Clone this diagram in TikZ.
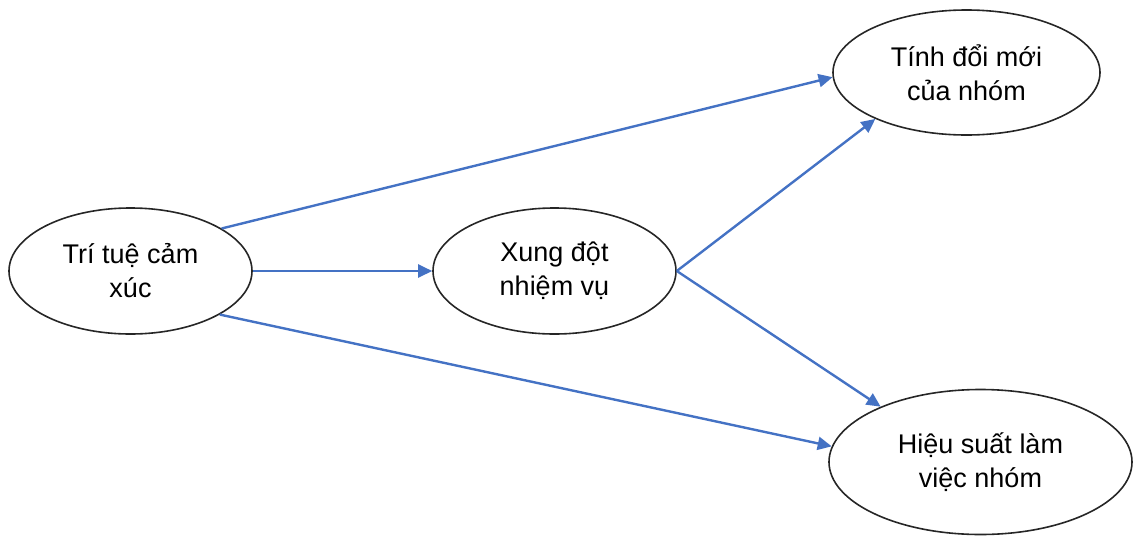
\documentclass[tikz,border=0pt]{standalone}
\usepackage{fontspec}
\setmainfont{Liberation Sans}
\usetikzlibrary{shapes.geometric,arrows.meta}
\definecolor{linkblue}{RGB}{68,114,196}
\begin{document}
\begin{tikzpicture}[x=1pt,y=-1pt,
  oval/.style={ellipse,draw=black!85,line width=1.6pt,inner sep=0pt,
    align=center,font=\fontsize{27}{34}\selectfont},
  link/.style={draw=linkblue,line width=2.4pt,-{Triangle[length=14pt,width=13pt]}}]
\useasboundingbox (0,0) rectangle (1133,536);

% constructs
\node[oval,minimum width=243pt,minimum height=126pt] (ei) at (130.5,271) {Trí tuệ cảm\\xúc};
\node[oval,minimum width=243pt,minimum height=126pt] (tc) at (554.5,271) {Xung đột\\nhiệm vụ};
\node[oval,minimum width=267pt,minimum height=125pt] (inn) at (966.5,72.5) {Tính đổi mới\\của nhóm};
\node[oval,minimum width=303pt,minimum height=145pt] (perf) at (980.5,462) {Hiệu suất làm\\việc nhóm};

% paths
\draw[link] (ei.25) -- (inn.182);
\draw[link] (ei.east) -- (tc.west);
\draw[link] (ei.-26) -- (perf.174);
\draw[link] (tc.east) -- (inn.207);
\draw[link] (tc.east) -- (perf.151);
\end{tikzpicture}
\end{document}
